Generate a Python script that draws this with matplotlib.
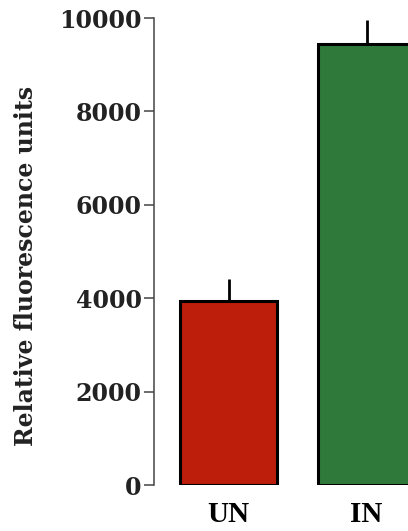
import matplotlib.pyplot as plt
import numpy as np

groups = ['UN', 'IN']
rfu = [3950, 9450]
rfu_err = [470, 500]
bar_colors = ['#bd1d0b', '#2f7a3a']

fig = plt.figure(figsize=(4.08, 5.31), dpi=100)
ax = fig.add_axes([0.3775, 0.0866, 0.6225, 0.8795])

x = np.arange(len(groups))
ax.bar(x, rfu, width=0.70, color=bar_colors, edgecolor='black', linewidth=2.2, zorder=2)
# upper error only, no caps
ax.errorbar(x, rfu, yerr=[np.zeros(len(rfu)), rfu_err], fmt='none',
            ecolor='black', elinewidth=2.0, capsize=0, zorder=1)

ax.set_xlim(-0.54, 1.30)
ax.set_ylim(0, 10000)
ax.set_yticks([0, 2000, 4000, 6000, 8000, 10000])
ax.set_xticks(x)
ax.set_xticklabels(groups, fontfamily='Liberation Serif', fontweight='bold', fontsize=21)
ax.tick_params(axis='x', length=0, pad=11.5)
ax.tick_params(axis='y', length=7, width=1.1, color='#444444', pad=2)
for lab in ax.get_yticklabels():
    lab.set_fontfamily('DejaVu Serif')
    lab.set_fontweight('bold')
    lab.set_fontsize(17)
    lab.set_color('#222222')

for side in ['top', 'right', 'bottom']:
    ax.spines[side].set_visible(False)
ax.spines['left'].set_color('#444444')
ax.spines['left'].set_linewidth(1.1)

fig.text(0.063, 0.499, 'Relative fluorescence units', rotation=90,
         ha='center', va='center', fontfamily='DejaVu Serif',
         fontweight='bold', fontsize=17, color='#222222')

fig.savefig('out.png', dpi=100)
